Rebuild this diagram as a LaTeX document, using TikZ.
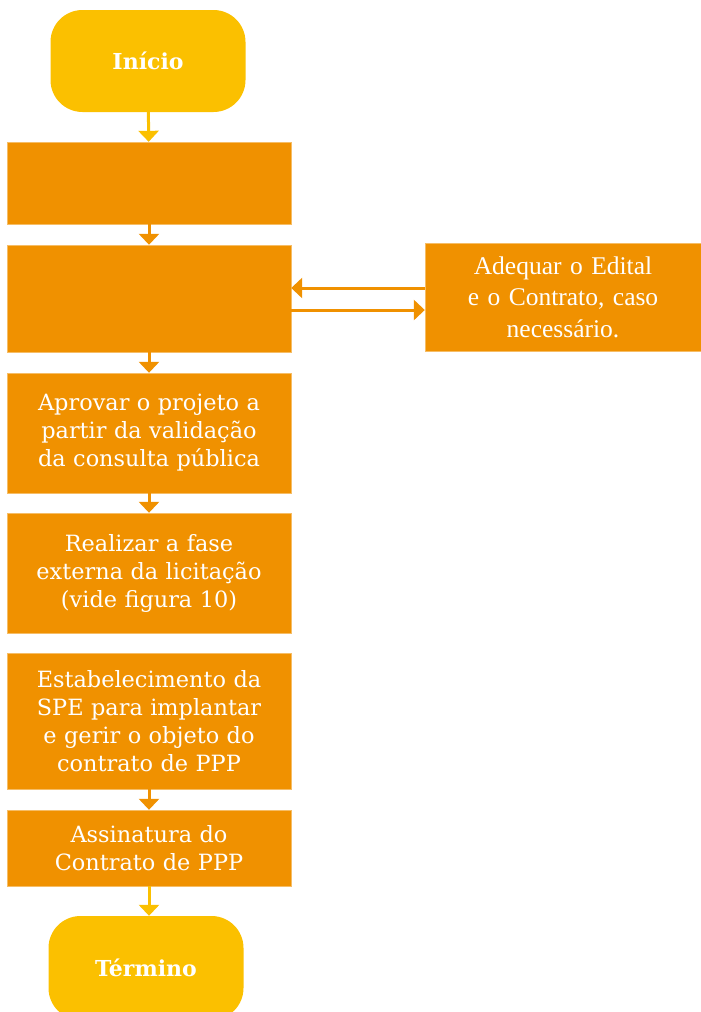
\documentclass[tikz,border=0pt]{standalone}
\usepackage{fontspec}
\setmainfont{DejaVu Serif}
\newfontfamily\timesfont{Liberation Serif}
\usetikzlibrary{positioning, arrows.meta}

\definecolor{laranja}{RGB}{240,145,0}
\definecolor{amarelo}{RGB}{251,192,0}

\tikzset{
    etapa/.style={fill=laranja, draw=laranja!60!white, thin, minimum width=284pt, text width=276pt, align=center, text=white, font=\fontsize{22.4}{28}\selectfont},
    extremo/.style={fill=amarelo, rounded corners=32pt, minimum width=195pt, minimum height=104pt, text=white, font=\fontsize{22}{24}\selectfont\bfseries},
    seta/.style={-{Triangle[width=20pt, length=11pt]}, line width=3pt, draw=laranja},
}

\begin{document}
\begin{tikzpicture}[x=1pt, y=1pt]
    \useasboundingbox (0,0) rectangle (701,-1012);

    \node[extremo, minimum height=102pt] (inicio) at (148,-61) {Início};
    \node[etapa, minimum height=82pt] (passo1) at (149,-183) {};
    \node[etapa, minimum height=107pt] (passo2) at (149,-298.5) {};
    \node[etapa, minimum height=108pt, minimum width=276pt, text width=268pt, font=\timesfont\fontsize{25.5}{31.5}\selectfont] (ajuste) at (563,-297) {Adequar o Edital\\ e o Contrato, caso\\ necessário.};
    \node[etapa, minimum height=120pt] (aprovar) at (149,-433) {Aprovar o projeto a\\ partir da validação\\ da consulta pública};
    \node[etapa, minimum height=120pt] (licitacao) at (149,-573) {Realizar a fase\\ externa da licitação\\ (vide figura 10)};
    \node[etapa, minimum height=136pt] (spe) at (149,-721) {Estabelecimento da\\ SPE para implantar\\ e gerir o objeto do\\ contrato de PPP};
    \node[etapa, minimum height=76pt] (assinatura) at (149,-848) {Assinatura do\\ Contrato de PPP};
    \node[extremo] (termino) at (146,-968) {Término};

    % fluxo principal
    \draw[seta, draw=amarelo] (inicio) -- (passo1);
    \draw[seta] (passo1) -- (passo2);
    \draw[seta] (passo2) -- (aprovar);
    \draw[seta] (aprovar) -- (licitacao);
    \draw[seta] (spe) -- (assinatura);
    \draw[seta, draw=amarelo] (assinatura.south) -- (termino.north -| assinatura.south);

    % ida e volta com o edital
    \draw[seta] ([yshift=9pt]ajuste.west) -- ([yshift=9pt]ajuste.west -| passo2.east);
    \draw[seta] ([yshift=-13pt]ajuste.west -| passo2.east) -- ([yshift=-13pt]ajuste.west);
\end{tikzpicture}
\end{document}
